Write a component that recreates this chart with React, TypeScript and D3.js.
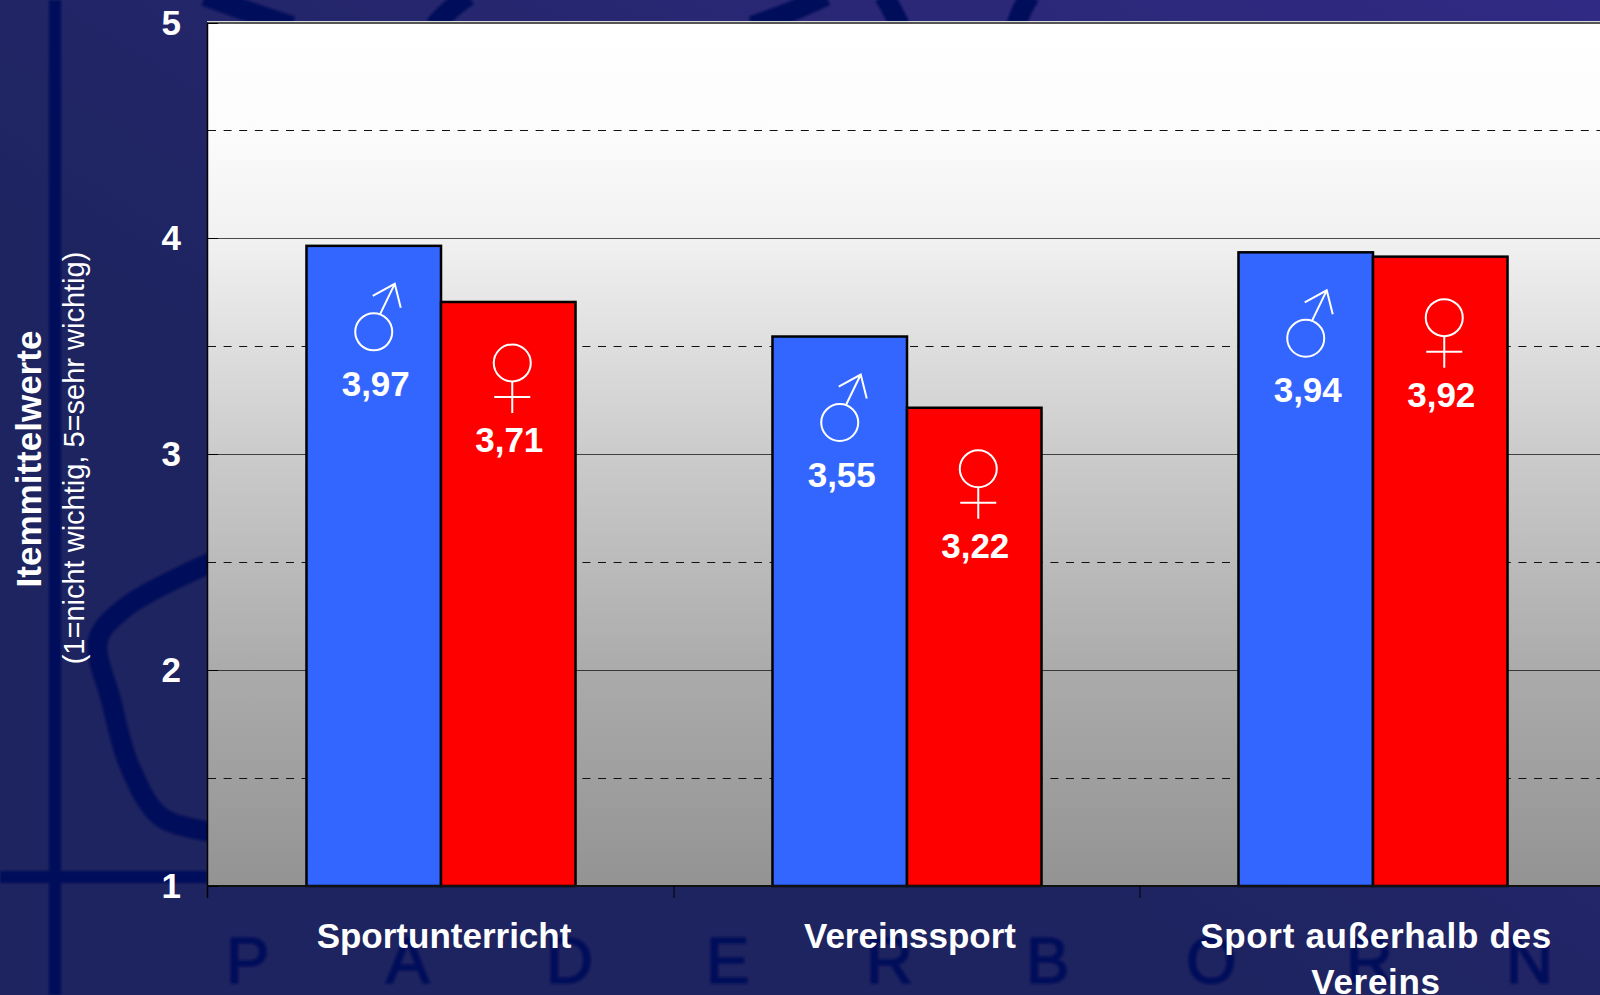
import * as d3 from 'd3';
import React, { useEffect, useRef } from 'react';

const categories = ['Sportunterricht', 'Vereinssport', 'Sport außerhalb des|Vereins'];
const seriesNames = ['männlich', 'weiblich'];
const maleValues = [3.97, 3.55, 3.94];
const femaleValues = [3.71, 3.22, 3.92];
const majorTicks = [1, 2, 3, 4, 5];
const minorTicks = [1.5, 2.5, 3.5, 4.5];
const watermarkLetters = ['P', 'A', 'D', 'E', 'R', 'B', 'O', 'R', 'N'];

const WIDTH = 1600;
const HEIGHT = 995;
const FONT = '"Liberation Sans", Arial, sans-serif';

// faint logo lines behind the chart
const logoCurves: [number, number][][] = [
    [[212, 562], [126, 607], [98, 640], [111, 700], [130, 767], [161, 817], [212, 832]],
    [[205, -4], [250, 12], [292, 26]],
    [[468, -4], [450, 10], [434, 26]],
    [[826, -4], [790, 12], [752, 26]],
    [[884, -4], [892, 10], [900, 26]],
    [[1030, -4], [1022, 10], [1016, 26]],
];

const App = () => {
    const svgRef = useRef<SVGSVGElement>(null);

    useEffect(() => {
        const svg = d3.select(svgRef.current);
        svg.selectAll('*').remove(); // Clear previous render

        const y = d3.scaleLinear().domain([1, 5]).range([886, 22.5]);
        const x0 = d3.scaleBand().domain(categories).range([208, 1606]);
        const x1 = d3.scaleBand().domain(seriesNames).range([0, x0.bandwidth()]).paddingOuter(0.732).paddingInner(0);
        const color = d3.scaleOrdinal<string>().domain(seriesNames).range(['#3366ff', '#ff0000']);

        const defs = svg.append('defs');
        const bg = defs.append('linearGradient').attr('id', 'bg')
            .attr('x1', 0).attr('y1', 1).attr('x2', 1).attr('y2', 0);
        bg.append('stop').attr('offset', '0.4').attr('stop-color', '#1e2460');
        bg.append('stop').attr('offset', '1').attr('stop-color', '#312a84');

        const wall = defs.append('linearGradient').attr('id', 'wall')
            .attr('x1', 0).attr('y1', 0).attr('x2', 0).attr('y2', 1);
        wall.append('stop').attr('offset', '0').attr('stop-color', '#ffffff');
        wall.append('stop').attr('offset', '0.12').attr('stop-color', '#fcfcfc');
        wall.append('stop').attr('offset', '0.25').attr('stop-color', '#f1f1f1');
        wall.append('stop').attr('offset', '0.5').attr('stop-color', '#cbcbcb');
        wall.append('stop').attr('offset', '0.75').attr('stop-color', '#ababab');
        wall.append('stop').attr('offset', '1').attr('stop-color', '#939393');

        const soft = defs.append('filter').attr('id', 'soft');
        soft.append('feGaussianBlur').attr('stdDeviation', 0.8);

        svg.append('rect').attr('width', WIDTH).attr('height', HEIGHT).attr('fill', 'url(#bg)');

        // logo behind the plot
        const logo = svg.append('g').attr('fill', 'none').attr('stroke', '#050d5a').attr('filter', 'url(#soft)');
        const curve = d3.line().curve(d3.curveCatmullRom);
        logo.selectAll('path')
            .data(logoCurves)
            .join('path')
            .attr('d', d => curve(d))
            .attr('stroke-width', 20);
        logo.append('line').attr('x1', 55).attr('x2', 55).attr('y1', 0).attr('y2', HEIGHT).attr('stroke-width', 12);
        logo.append('line').attr('x1', 0).attr('x2', 207).attr('y1', 877).attr('y2', 877).attr('stroke-width', 12);

        const letterX = d3.scalePoint().domain(d3.range(watermarkLetters.length).map(String)).range([226, 1506]);
        svg.append('g').attr('filter', 'url(#soft)').selectAll('text')
            .data(watermarkLetters)
            .join('text')
            .attr('x', (d, i) => letterX(String(i)))
            .attr('y', 983)
            .style('font-family', FONT)
            .style('font-size', '65px')
            .attr('fill', '#050d5a')
            .attr('stroke', '#050d5a')
            .attr('stroke-width', 1.5)
            .text(d => d);

        // plot wall
        svg.append('rect')
            .attr('x', 207.5).attr('y', y(5)).attr('width', WIDTH - 207.5).attr('height', y(1) - y(5))
            .attr('fill', 'url(#wall)');

        // gridlines
        svg.append('g').selectAll('line')
            .data(majorTicks.slice(1, 4))
            .join('line')
            .attr('x1', 207.5).attr('x2', WIDTH)
            .attr('y1', d => Math.round(y(d)) + 0.5).attr('y2', d => Math.round(y(d)) + 0.5)
            .attr('stroke', '#111').attr('stroke-width', 1).attr('stroke-opacity', 0.75);

        svg.append('g').selectAll('line')
            .data(minorTicks)
            .join('line')
            .attr('x1', 208).attr('x2', WIDTH)
            .attr('y1', d => Math.floor(y(d)) + 0.5).attr('y2', d => Math.floor(y(d)) + 0.5)
            .attr('stroke', '#111').attr('stroke-width', 1)
            .attr('stroke-dasharray', '8 7.6');

        // top border of the wall
        svg.append('line').attr('x1', 207).attr('x2', WIDTH).attr('y1', 21.5).attr('y2', 21.5).attr('stroke', '#d8d8d8').attr('stroke-width', 1);
        svg.append('line').attr('x1', 207).attr('x2', WIDTH).attr('y1', 23).attr('y2', 23).attr('stroke', '#555').attr('stroke-width', 2);

        // bars
        const groups = svg.append('g').selectAll('g')
            .data(categories)
            .join('g')
            .attr('transform', d => `translate(${x0(d)},0)`);

        const barData = (i: number) => [
            { key: seriesNames[0], value: maleValues[i] },
            { key: seriesNames[1], value: femaleValues[i] },
        ];

        groups.selectAll('rect')
            .data((d, i) => barData(i))
            .join('rect')
            .attr('x', d => x1(d.key))
            .attr('y', d => y(d.value) + 1) // outline sits just below the value line in the original
            .attr('width', x1.bandwidth())
            .attr('height', d => y(1) - y(d.value) - 1)
            .attr('fill', d => color(d.key))
            .attr('stroke', '#000')
            .attr('stroke-width', 2.5);

        // gender symbols and value labels inside the bars
        const marks = groups.selectAll('g')
            .data((d, i) => barData(i))
            .join('g')
            .attr('transform', d => `translate(${x1(d.key) + x1.bandwidth() / 2},${y(d.value)})`);

        marks.each(function (d) {
            const g = d3.select(this);
            const sym = g.append('g').attr('fill', 'none').attr('stroke', '#fff').attr('stroke-width', 2);
            if (d.key === seriesNames[0]) {
                sym.append('circle').attr('cx', 0).attr('cy', 87).attr('r', 18.5);
                sym.append('path').attr('d', 'M6,70 L21,39 M-1,51 L21,39 L27,63');
            } else {
                sym.append('circle').attr('cx', 4).attr('cy', 62).attr('r', 18.5);
                sym.append('path').attr('d', 'M4,81 V112 M-14,96 H22');
            }
            g.append('text')
                .attr('x', d.key === seriesNames[0] ? 2 : 1)
                .attr('y', 151)
                .attr('text-anchor', 'middle')
                .attr('fill', '#fff')
                .style('font-family', FONT)
                .style('font-weight', 'bold')
                .style('font-size', '35px')
                .text(d.value.toFixed(2).replace('.', ','));
        });

        // axes
        svg.append('line').attr('x1', 207.5).attr('x2', 207.5).attr('y1', y(5)).attr('y2', y(1) + 12).attr('stroke', '#000').attr('stroke-width', 1.5);
        svg.append('line').attr('x1', 207).attr('x2', WIDTH).attr('y1', y(1)).attr('y2', y(1)).attr('stroke', '#111').attr('stroke-width', 2);

        svg.append('g').selectAll('line')
            .data(categories.slice(1))
            .join('line')
            .attr('x1', d => x0(d)).attr('x2', d => x0(d))
            .attr('y1', y(1)).attr('y2', y(1) + 12)
            .attr('stroke', '#000').attr('stroke-width', 1);

        svg.append('g').selectAll('line')
            .data(majorTicks)
            .join('line')
            .attr('x1', 207.5).attr('x2', 218)
            .attr('y1', d => Math.round(y(d)) + 0.5).attr('y2', d => Math.round(y(d)) + 0.5)
            .attr('stroke', '#000').attr('stroke-width', 1);

        svg.append('g').selectAll('text')
            .data(majorTicks)
            .join('text')
            .attr('x', 181)
            .attr('y', d => y(d) + 12)
            .attr('text-anchor', 'end')
            .attr('fill', '#fff')
            .style('font-family', FONT)
            .style('font-weight', 'bold')
            .style('font-size', '35px')
            .text(d => d);

        // category labels, second line where needed
        svg.append('g').selectAll('text')
            .data(categories)
            .join('text')
            .attr('text-anchor', 'middle')
            .attr('fill', '#fff')
            .style('font-family', FONT)
            .style('font-weight', 'bold')
            .style('font-size', '35px')
            .each(function (d) {
                const cx = x0(d) + x0.bandwidth() / 2 + 3;
                const lines = d.split('|');
                d3.select(this)
                    .style('letter-spacing', lines.length > 1 ? '0.7px' : null)
                    .selectAll('tspan')
                    .data(lines)
                    .join('tspan')
                    .attr('x', cx)
                    .attr('y', (t, i) => 948 + i * 46)
                    .text(t => t);
            });

        // y axis title
        svg.append('text')
            .attr('transform', 'translate(41,459) rotate(-90)')
            .attr('text-anchor', 'middle')
            .attr('fill', '#fff')
            .style('font-family', FONT)
            .style('font-weight', 'bold')
            .style('font-size', '35px')
            .text('Itemmittelwerte');

        svg.append('text')
            .attr('transform', 'translate(84,458) rotate(-90)')
            .attr('text-anchor', 'middle')
            .attr('fill', '#fff')
            .style('font-family', FONT)
            .style('font-size', '29px')
            .text('(1=nicht wichtig, 5=sehr wichtig)');
    }, []);

    return (
        <svg
            ref={svgRef}
            width={WIDTH}
            height={HEIGHT}
            style={{ position: 'fixed', left: 0, top: 0, display: 'block' }}
        />
    );
};

export default App;
